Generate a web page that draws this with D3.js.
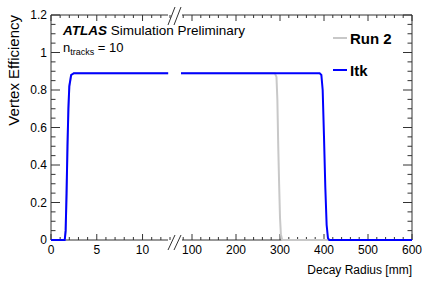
<!DOCTYPE html>
<html>
<head>
<meta charset="utf-8">
<script src="https://cdn.jsdelivr.net/npm/d3@7"></script>
<style>
  body { margin: 0; background: #fff; }
  text { font-family: "Liberation Sans", Arial, sans-serif; }
</style>
</head>
<body>
<svg id="chart" width="425" height="287"></svg>
<script>
// curves: [decay radius mm, efficiency]
const itk = [[0,0],[1.5,0],[1.6,0.05],[1.7,0.25],[1.8,0.5],[1.9,0.7],[2.0,0.82],[2.2,0.88],[2.5,0.89],[12.8,0.89],
             [75,0.89],[390,0.89],[394,0.88],[397,0.8],[400,0.55],[403,0.28],[406,0.08],[409,0.01],[412,0],[600,0]];
const run2 = [[0,0],[1.5,0],[1.6,0.05],[1.7,0.25],[1.8,0.5],[1.9,0.7],[2.0,0.82],[2.2,0.88],[2.5,0.89],[12.8,0.89],
              [75,0.89],[288,0.89],[292,0.87],[294,0.75],[296,0.5],[298,0.3],[300,0.12],[302,0.03],[305,0],[600,0]];
const yTicks = [0, 0.2, 0.4, 0.6, 0.8, 1, 1.2];
const xTicksLeft = [0, 5, 10];
const xTicksRight = [100, 200, 300, 400, 500, 600];
const legendNames = ["Run 2", "Itk"];
const legendColors = ["#c8c8c8", "#0000ff"];

const svg = d3.select("#chart");
const top_ = 15, bottom = 240, left = 51, right = 412;
const axisCol = "#333";

var y = d3.scaleLinear().domain([0, 1.2]).range([bottom, top_]);
var xL = d3.scaleLinear().domain([0, 13]).range([left, 170]);
var xR = d3.scaleLinear().domain([75, 600]).range([181, right]);
const xOf = v => v <= 13 ? xL(v) : xR(v);

// frame
svg.append("line").attr("x1", left).attr("x2", left).attr("y1", top_).attr("y2", bottom).attr("stroke", axisCol);
svg.append("line").attr("x1", right).attr("x2", right).attr("y1", top_).attr("y2", bottom).attr("stroke", axisCol);
[top_, bottom].forEach(yy => {
  svg.append("line").attr("x1", left).attr("x2", 168).attr("y1", yy).attr("y2", yy).attr("stroke", axisCol);
  svg.append("line").attr("x1", 182).attr("x2", right).attr("y1", yy).attr("y2", yy).attr("stroke", axisCol);
});

// y ticks (left + right)
d3.range(0, 1.2001, 0.05).forEach(v => {
  const major = Math.abs(v / 0.2 - Math.round(v / 0.2)) < 1e-6;
  const len = major ? 9 : 4.5;
  svg.append("line").attr("x1", left).attr("x2", left + len).attr("y1", y(v)).attr("y2", y(v)).attr("stroke", axisCol);
  svg.append("line").attr("x1", right).attr("x2", right - len).attr("y1", y(v)).attr("y2", y(v)).attr("stroke", axisCol);
});
svg.selectAll(".ylab").data(yTicks).enter().append("text")
  .attr("x", 47).attr("y", d => y(d) + 4).attr("text-anchor", "end")
  .attr("font-size", 12).text(d => d3.format("~g")(d));

// x ticks (bottom + top)
function xtick(px, major) {
  const len = major ? 6 : 3;
  svg.append("line").attr("x1", px).attr("x2", px).attr("y1", bottom).attr("y2", bottom - len).attr("stroke", axisCol);
  svg.append("line").attr("x1", px).attr("x2", px).attr("y1", top_).attr("y2", top_ + len).attr("stroke", axisCol);
}
d3.range(0, 14, 1).forEach(v => xtick(xL(v), v % 5 === 0));
d3.range(80, 601, 20).forEach(v => xtick(xR(v), v % 100 === 0));
svg.selectAll(".xlabL").data(xTicksLeft).enter().append("text")
  .attr("x", d => xL(d)).attr("y", 254).attr("text-anchor", "middle").attr("font-size", 12).text(d => d);
svg.selectAll(".xlabR").data(xTicksRight).enter().append("text")
  .attr("x", d => xR(d)).attr("y", 254).attr("text-anchor", "middle").attr("font-size", 12).text(d => d);

// break marks
[[250, 235], [25, 7]].forEach(([y1, y2]) => {
  [0, 6].forEach(off => {
    svg.append("line").attr("x1", 168 + off).attr("y1", y1).attr("x2", 175 + off).attr("y2", y2)
      .attr("stroke", axisCol);
  });
});

// curves, each axis segment separately
const line = d3.line().x(d => xOf(d[0])).y(d => y(d[1]));
function drawCurve(data, col) {
  svg.append("path").datum(data.filter(d => d[0] <= 13)).attr("d", line)
    .attr("fill", "none").attr("stroke", col).attr("stroke-width", 2);
  svg.append("path").datum(data.filter(d => d[0] > 13)).attr("d", line)
    .attr("fill", "none").attr("stroke", col).attr("stroke-width", 2);
}
drawCurve(run2, legendColors[0]);
drawCurve(itk, legendColors[1]);

// legend
legendNames.forEach((n, i) => {
  const ly = 38 + i * 32;
  svg.append("line").attr("x1", 333).attr("x2", 347).attr("y1", ly).attr("y2", ly)
    .attr("stroke", legendColors[i]).attr("stroke-width", 2);
  svg.append("text").attr("x", 350).attr("y", ly + 5.5).attr("font-size", 15)
    .attr("font-weight", "bold").text(n);
});

// labels
const t1 = svg.append("text").attr("x", 63).attr("y", 35).attr("font-size", 13.5);
t1.append("tspan").attr("font-weight", "bold").attr("font-style", "italic").text("ATLAS");
t1.append("tspan").text(" Simulation Preliminary");
const t2 = svg.append("text").attr("x", 63).attr("y", 52).attr("font-size", 13);
t2.append("tspan").text("n");
t2.append("tspan").attr("font-size", 9).attr("dy", 3).text("tracks");
t2.append("tspan").attr("dy", -3).text(" = 10");

svg.append("text").attr("transform", "translate(19,15) rotate(-90)").attr("text-anchor", "end")
  .attr("font-size", 15).text("Vertex Efficiency");
svg.append("text").attr("x", right).attr("y", 274).attr("text-anchor", "end")
  .attr("font-size", 12).text("Decay Radius [mm]");
</script>
</body>
</html>
